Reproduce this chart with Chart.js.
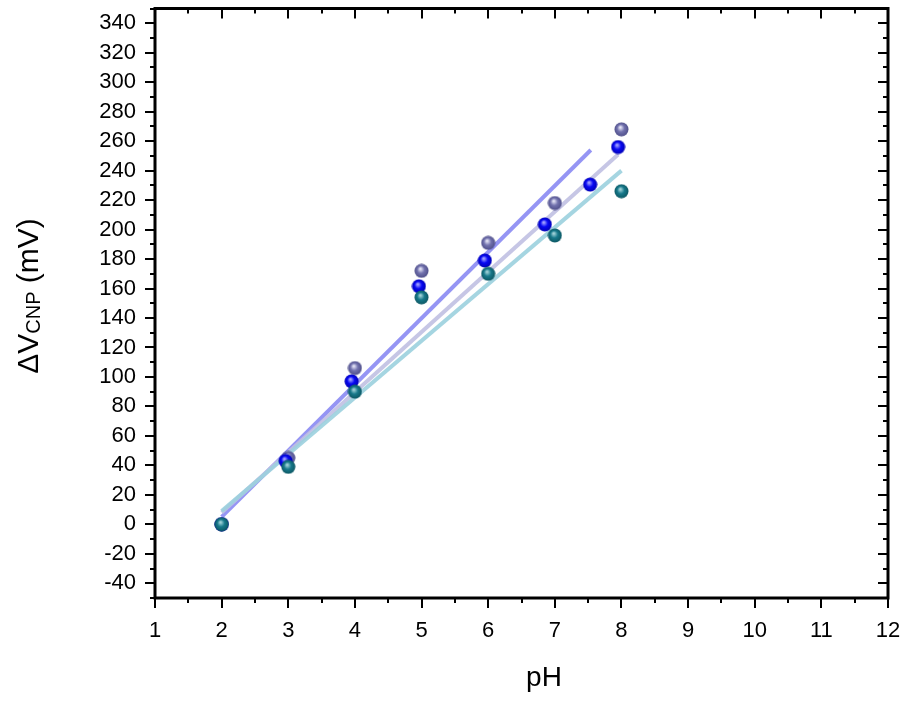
<!DOCTYPE html>
<html>
<head>
<meta charset="utf-8">
<script src="https://cdn.jsdelivr.net/npm/chart.js@4.4.1/dist/chart.umd.min.js"></script>
<style>
html,body{margin:0;padding:0;background:#fff;}
#wrap{width:906px;height:704px;position:relative;}
</style>
</head>
<body>
<div id="wrap"><canvas id="c" width="906" height="704"></canvas></div>
<script>
// ---- data ----
const phPurple = [2, 3, 4, 5, 6, 7, 8];
const vPurple  = [0, 45, 106, 172, 191, 218, 268];
const phBlue   = [2, 2.96, 3.95, 4.96, 5.95, 6.85, 7.53, 7.95];
const vBlue    = [0, 43, 97, 161.5, 179, 203.5, 230.5, 256];
const phTeal   = [2, 3, 4, 5, 6, 7, 8];
const vTeal    = [0, 39, 90, 154, 170, 196, 226];

const fitBlueX   = [2, 7.54];
const fitBlueY   = [5, 254];
const fitPurpleX = [2, 7.95];
const fitPurpleY = [8, 251];
const fitTealX   = [2, 8.0];
const fitTealY   = [9, 240];

const xTickValues = [1,1.5,2,2.5,3,3.5,4,4.5,5,5.5,6,6.5,7,7.5,8,8.5,9,9.5,10,10.5,11,11.5,12];
const xTickLabels = ['1','','2','','3','','4','','5','','6','','7','','8','','9','','10','','11','','12'];
const yTickValues = [-50,-40,-30,-20,-10,0,10,20,30,40,50,60,70,80,90,100,110,120,130,140,150,160,170,180,190,200,210,220,230,240,250,260,270,280,290,300,310,320,330,340,350];
const yTickLabels = yTickValues.map(v => (v % 20 === 0 ? String(v) : ''));

const xTitle = 'pH';
const yTitleMain = 'ΔV';
const yTitleSub = 'CNP';
const yTitleTail = ' (mV)';

// ---- helpers ----
function pairs(xs, ys){ return xs.map((x,i)=>({x:x, y:ys[i]})); }

function sphere(base, light, dark){
  const s = 15, c = document.createElement('canvas');
  c.width = s; c.height = s;
  const g = c.getContext('2d');
  const grad = g.createRadialGradient(s*0.42, s*0.36, 0.5, s/2, s/2, s/2);
  grad.addColorStop(0, light);
  grad.addColorStop(0.45, base);
  grad.addColorStop(1, dark);
  g.fillStyle = grad;
  g.beginPath(); g.arc(s/2, s/2, s/2 - 0.5, 0, Math.PI*2); g.fill();
  return c;
}

const imgPurple = sphere('#7272ae', '#e8e8f8', '#4c4c86');
const imgBlue   = sphere('#0808f4', '#a8a8ff', '#0000b0');
const imgTeal   = sphere('#17798b', '#a4d4da', '#0b545f');

const frameTicks = {
  id: 'frameTicks',
  afterDraw(chart){
    const ctx = chart.ctx, a = chart.chartArea;
    const xs = chart.scales.x, ys = chart.scales.y;
    ctx.save();
    ctx.strokeStyle = '#000';
    ctx.lineWidth = 2;
    ctx.lineCap = 'butt';
    ctx.beginPath();
    xTickValues.forEach((v,i) => {
      const px = Math.round(xs.getPixelForValue(v));
      const len = xTickLabels[i] !== '' ? 10 : 5;
      ctx.moveTo(px, a.bottom); ctx.lineTo(px, a.bottom + len);
      ctx.moveTo(px, a.top); ctx.lineTo(px, a.top + len);
    });
    yTickValues.forEach((v,i) => {
      const py = Math.round(ys.getPixelForValue(v));
      const len = yTickLabels[i] !== '' ? 10 : 5;
      ctx.moveTo(a.left, py); ctx.lineTo(a.left - len, py);
      ctx.moveTo(a.right, py); ctx.lineTo(a.right - len, py);
    });
    ctx.stroke();
    ctx.lineWidth = 3;
    ctx.strokeRect(a.left, a.top, a.right - a.left, a.bottom - a.top);

    // axis titles
    ctx.fillStyle = '#000';
    ctx.textBaseline = 'alphabetic';
    ctx.font = '28px "Liberation Sans", Arial, sans-serif';
    ctx.textAlign = 'center';
    ctx.fillText(xTitle, 544, 686);

    ctx.translate(38, 296);
    ctx.rotate(-Math.PI/2);
    const fMain = '30px "Liberation Sans", Arial, sans-serif';
    const fSub = '20px "Liberation Sans", Arial, sans-serif';
    ctx.font = fMain; const w1 = ctx.measureText(yTitleMain).width; const w3 = ctx.measureText(yTitleTail).width;
    ctx.font = fSub; const w2 = ctx.measureText(yTitleSub).width;
    let x0 = -(w1 + w2 + w3)/2;
    ctx.textAlign = 'left';
    ctx.font = fMain; ctx.fillText(yTitleMain, x0, 0);
    ctx.font = fSub; ctx.fillText(yTitleSub, x0 + w1, 2);
    ctx.font = fMain; ctx.fillText(yTitleTail, x0 + w1 + w2, 0);
    ctx.restore();
  }
};

const lineDs = (xs, ys, color, order) => ({
  type: 'line', data: pairs(xs, ys), borderColor: color, borderWidth: 4,
  pointRadius: 0, showLine: true, fill: false, order: order, borderCapStyle: 'butt'
});
const ptDs = (xs, ys, img, order) => ({
  type: 'scatter', data: pairs(xs, ys), pointStyle: img, pointRadius: 7.5, order: order, showLine: false
});

function zeroPad(s){ s.paddingTop = 0; s.paddingBottom = 0; s.paddingLeft = 0; s.paddingRight = 0; }

new Chart(document.getElementById('c'), {
  type: 'scatter',
  data: {
    datasets: [
      ptDs(phTeal, vTeal, imgTeal, 0),
      ptDs(phBlue, vBlue, imgBlue, 1),
      ptDs(phPurple, vPurple, imgPurple, 2),
      lineDs(fitTealX, fitTealY, 'rgba(155,208,222,0.9)', 3),
      lineDs(fitPurpleX, fitPurpleY, 'rgba(192,192,226,0.9)', 4),
      lineDs(fitBlueX, fitBlueY, 'rgba(130,130,242,0.85)', 5)
    ]
  },
  options: {
    responsive: false,
    animation: false,
    events: [],
    layout: { padding: { left: 0, top: 7, right: 18, bottom: 0 } },
    plugins: { legend: { display: false }, tooltip: { enabled: false }, title: { display: false } },
    scales: {
      x: {
        type: 'linear', min: 1, max: 12,
        afterBuildTicks(s){ s.ticks = xTickValues.map(v => ({value: v})); },
        afterFit(s){ s.height = 106; zeroPad(s); },
        grid: { display: true, drawOnChartArea: false, drawTicks: false },
        border: { display: false },
        ticks: {
          autoSkip: false, maxRotation: 0, padding: 20, color: '#000',
          font: { family: '"Liberation Sans", Arial, sans-serif', size: 22 },
          callback(v, i){ return xTickLabels[i]; }
        }
      },
      y: {
        type: 'linear', min: -50, max: 350,
        afterBuildTicks(s){ s.ticks = yTickValues.map(v => ({value: v})); },
        afterFit(s){ s.width = 155; zeroPad(s); },
        grid: { display: true, drawOnChartArea: false, drawTicks: false },
        border: { display: false },
        ticks: {
          autoSkip: false, padding: 19, color: '#000',
          font: { family: '"Liberation Sans", Arial, sans-serif', size: 22 },
          callback(v, i){ return yTickLabels[i]; }
        }
      }
    }
  },
  plugins: [frameTicks]
});
</script>
</body>
</html>
